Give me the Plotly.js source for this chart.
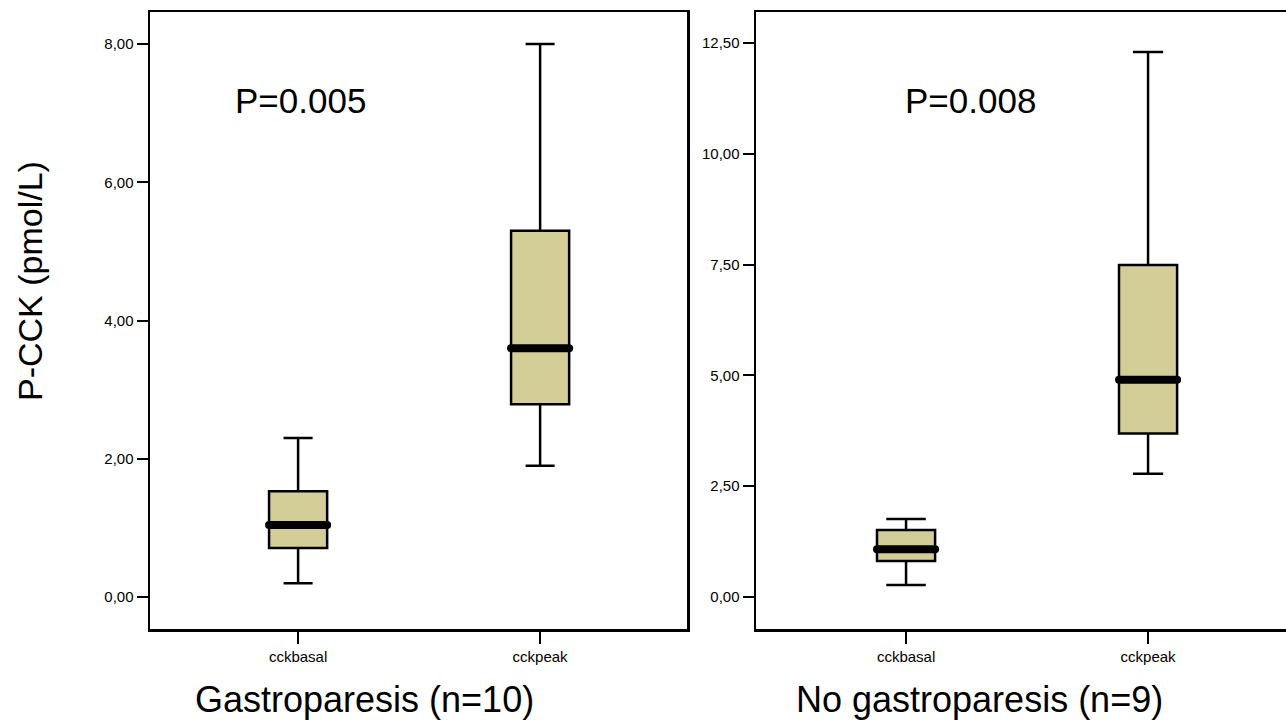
<!DOCTYPE html>
<html>
<head>
<meta charset="utf-8">
<script src="https://cdn.plot.ly/plotly-3.0.1.min.js"></script>
<style>
  html, body { margin: 0; padding: 0; background: #fff; }
  #chart { width: 1286px; height: 721px; }
  .scatterlayer .js-line { stroke-linecap: round; }
</style>
</head>
<body>
<div id="chart"></div>
<script>
// ---- data ----
const categories = ['cckbasal', 'cckpeak'];
const tickPositions = [0, 1];

const gastroLower  = [0.20, 1.90];
const gastroQ1     = [0.71, 2.79];
const gastroMedian = [1.04, 3.60];
const gastroQ3     = [1.53, 5.30];
const gastroUpper  = [2.30, 8.00];

const noGastroLower  = [0.27, 2.78];
const noGastroQ1     = [0.81, 3.69];
const noGastroMedian = [1.08, 4.90];
const noGastroQ3     = [1.51, 7.49];
const noGastroUpper  = [1.76, 12.30];

const panelTitles = ['Gastroparesis (n=10)', 'No gastroparesis (n=9)'];
const pValues = ['P=0.005', 'P=0.008'];
const yTitle = 'P-CCK (pmol/L)';

// ---- styles ----
const fillColor = 'rgb(211,206,152)';
const boxWidth = 0.24;
const whiskerWidths = [[0.5, 0.5], [0.68, 0.52]];
const fontFamily = 'Liberation Sans, Arial, Helvetica, sans-serif';

const panels = [
  {lower: gastroLower, q1: gastroQ1, med: gastroMedian, q3: gastroQ3, upper: gastroUpper, xa: 'x', ya: 'y'},
  {lower: noGastroLower, q1: noGastroQ1, med: noGastroMedian, q3: noGastroQ3, upper: noGastroUpper, xa: 'x2', ya: 'y2'}
];

const traces = [];
panels.forEach((p, pi) => {
  tickPositions.forEach((pos, i) => {
    traces.push({
      type: 'box',
      x: [pos],
      q1: [p.q1[i]], median: [p.med[i]], q3: [p.q3[i]],
      lowerfence: [p.lower[i]], upperfence: [p.upper[i]],
      width: boxWidth,
      whiskerwidth: whiskerWidths[pi][i],
      fillcolor: fillColor,
      line: {color: '#000', width: 2.5},
      boxpoints: false,
      xaxis: p.xa, yaxis: p.ya,
      hoverinfo: 'skip',
      showlegend: false
    });
  });
  tickPositions.forEach((pos, i) => {
    traces.push({
      type: 'scatter', mode: 'lines',
      x: [pos - boxWidth / 2, pos + boxWidth / 2],
      y: [p.med[i], p.med[i]],
      line: {color: '#000', width: 8},
      xaxis: p.xa, yaxis: p.ya,
      hoverinfo: 'skip',
      showlegend: false
    });
  });
});

const W = 1286, H = 721;
const plotTop = 12, plotBottom = 629;
const px = v => v / W;
const py = v => (plotBottom - v) / (plotBottom - plotTop);

const axisCommon = {
  showline: true, linecolor: '#000', linewidth: 2.5,
  showgrid: false, zeroline: false,
  ticks: 'outside', tickcolor: '#000', tickwidth: 2,
  tickfont: {family: fontFamily, size: 15, color: '#000'},
  fixedrange: true
};

const layout = {
  width: W, height: H,
  margin: {l: 0, r: 0, t: plotTop, b: H - plotBottom, pad: 0},
  paper_bgcolor: '#fff', plot_bgcolor: '#fff',
  separators: ',.',
  showlegend: false,
  xaxis: Object.assign({}, axisCommon, {
    domain: [px(150), px(687)], range: [-0.612, 1.607], mirror: true,
    tickmode: 'array', tickvals: tickPositions, ticktext: categories, ticklen: 12, anchor: 'y'
  }),
  yaxis: Object.assign({}, axisCommon, {
    range: [-0.463, 8.463], mirror: true, tickmode: 'linear', tick0: 0, dtick: 2,
    tickformat: '.2f', ticklen: 11, anchor: 'x'
  }),
  xaxis2: Object.assign({}, axisCommon, {
    domain: [px(756), 1], range: [-0.62, 1.57], mirror: true,
    tickmode: 'array', tickvals: tickPositions, ticktext: categories, ticklen: 12, anchor: 'y2'
  }),
  yaxis2: Object.assign({}, axisCommon, {
    range: [-0.722, 13.2], mirror: false, tickmode: 'linear', tick0: 0, dtick: 2.5,
    tickformat: '.2f', ticklen: 11, anchor: 'x2'
  }),
  annotations: [
    {text: yTitle, xref: 'paper', yref: 'paper', x: px(30), y: py(281), textangle: -90,
     showarrow: false, xanchor: 'center', yanchor: 'middle',
     font: {family: fontFamily, size: 34, color: '#000'}},
    {text: panelTitles[0], xref: 'paper', yref: 'paper', x: px(365), y: py(699),
     showarrow: false, xanchor: 'center', yanchor: 'middle',
     font: {family: fontFamily, size: 36, color: '#000'}},
    {text: panelTitles[1], xref: 'paper', yref: 'paper', x: px(980), y: py(699),
     showarrow: false, xanchor: 'center', yanchor: 'middle',
     font: {family: fontFamily, size: 36, color: '#000'}},
    {text: pValues[0], xref: 'paper', yref: 'paper', x: px(300), y: py(101),
     showarrow: false, xanchor: 'center', yanchor: 'middle',
     font: {family: fontFamily, size: 35, color: '#000'}},
    {text: pValues[1], xref: 'paper', yref: 'paper', x: px(970), y: py(101),
     showarrow: false, xanchor: 'center', yanchor: 'middle',
     font: {family: fontFamily, size: 35, color: '#000'}}
  ]
};

Plotly.newPlot('chart', traces, layout, {staticPlot: true, displayModeBar: false});
</script>
</body>
</html>
